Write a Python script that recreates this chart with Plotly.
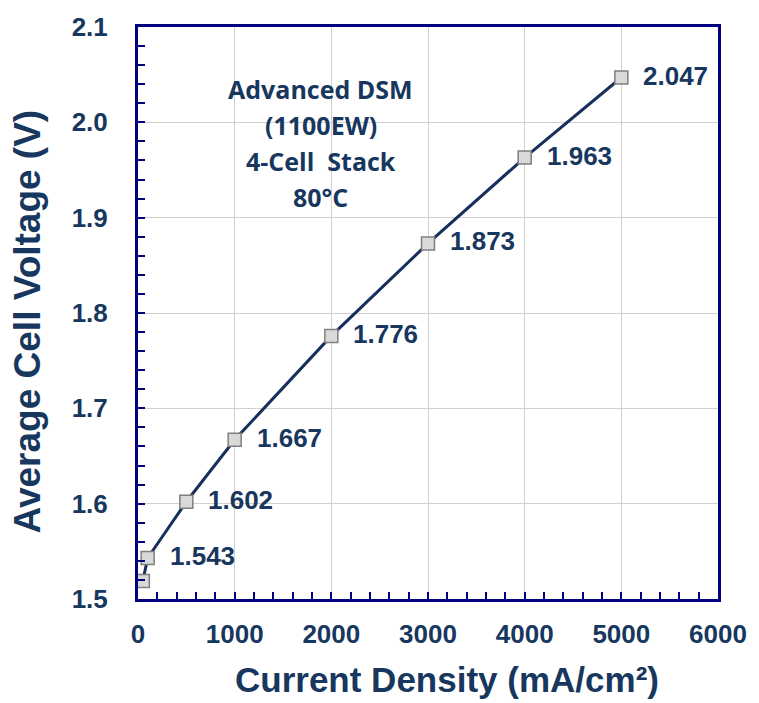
import plotly.graph_objects as go

current_density = [50, 100, 500, 1000, 2000, 3000, 4000, 5000]
cell_voltage = [1.519, 1.543, 1.602, 1.667, 1.776, 1.873, 1.963, 2.047]
label_points_x = [100, 500, 1000, 2000, 3000, 4000, 5000]
label_points_y = [1.543, 1.602, 1.667, 1.776, 1.873, 1.963, 2.047]
label_texts = ["1.543", "1.602", "1.667", "1.776", "1.873", "1.963", "2.047"]
x_ticks = [0, 1000, 2000, 3000, 4000, 5000, 6000]
y_ticks = [1.5, 1.6, 1.7, 1.8, 1.9, 2.0, 2.1]
info_lines = ["Advanced DSM", "(1100EW)", "4-Cell  Stack", "80°C"]
x_title = "Current Density (mA/cm²)"
y_title = "Average Cell Voltage (V)"

navy = "#17375E"
axis_blue = "#000080"

fig = go.Figure()
fig.add_trace(go.Scatter(
    x=current_density, y=cell_voltage, mode="lines+markers",
    line=dict(color="#172F5C", width=3),
    marker=dict(symbol="square", size=13, color="#D9D9D9",
                line=dict(color="#7F7F7F", width=1.5)),
    showlegend=False, hoverinfo="skip", cliponaxis=False,
))

for xv, yv, t in zip(label_points_x, label_points_y, label_texts):
    fig.add_annotation(x=xv, y=yv, text=t, showarrow=False, xanchor="left",
                       yanchor="middle", xshift=20, yshift=2,
                       font=dict(family="Liberation Sans, Arial", size=26,
                                 color=navy, weight="bold"))

line_gap = 36
n = len(info_lines)
for i, line in enumerate(info_lines):
    fig.add_annotation(x=1890, y=1.978, text=line, showarrow=False,
                       xanchor="center", yanchor="middle",
                       yshift=((n - 1) / 2 - i) * line_gap,
                       font=dict(family="Open Sans, Noto Sans", size=25,
                                 color=navy, weight="bold"))

title_font_x = dict(family="Liberation Sans, Arial", size=35, color=navy,
                    weight="bold")
title_font_y = dict(family="Liberation Sans, Arial", size=37, color=navy,
                    weight="bold")
fig.add_annotation(xref="paper", yref="paper", x=0.533, y=-0.141,
                   text=x_title, showarrow=False, xanchor="center",
                   yanchor="middle", font=title_font_x)
fig.add_annotation(xref="paper", yref="paper", x=-0.19, y=0.485,
                   text=y_title, showarrow=False, xanchor="center",
                   yanchor="middle", textangle=-90, font=title_font_y)

axis_common = dict(
    showline=True, linecolor=axis_blue, linewidth=3, mirror=True,
    ticks="inside", ticklen=7, tickwidth=1.5, tickcolor=axis_blue,
    showgrid=True, gridcolor="#D0D0D0", gridwidth=1, zeroline=False,
    tickfont=dict(family="Liberation Sans, Arial", size=26, color=navy,
                  weight="bold"),
)

fig.update_xaxes(
    range=[0, 6000], tickvals=x_ticks, ticktext=[str(v) for v in x_ticks],
    minor=dict(ticks="inside", dtick=200, ticklen=7, tickcolor=axis_blue,
               tickwidth=1.5, showgrid=False),
    ticklabelstandoff=10,
    **axis_common,
)
fig.update_yaxes(
    range=[1.5, 2.1], tickvals=y_ticks, ticktext=[f"{v:.1f}" for v in y_ticks],
    minor=dict(ticks="inside", dtick=0.02, ticklen=7, tickcolor=axis_blue,
               tickwidth=1.5, showgrid=False),
    ticklabelstandoff=22,
    **axis_common,
)

fig.update_layout(
    width=759, height=703,
    margin=dict(l=138, r=39, t=24, b=104),
    paper_bgcolor="white", plot_bgcolor="white",
)

fig.write_html("out.html")
